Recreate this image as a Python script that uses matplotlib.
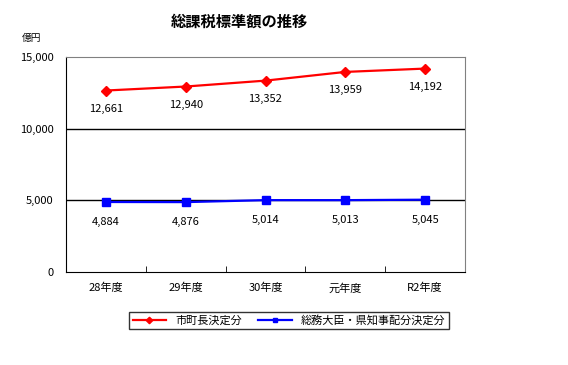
import matplotlib
matplotlib.use("Agg")
import matplotlib.pyplot as plt

plt.rcParams['font.family'] = ['Noto Sans CJK JP', 'DejaVu Sans']

years = ["28年度", "29年度", "30年度", "元年度", "R2年度"]
mayor = [12661, 12940, 13352, 13959, 14192]
minister = [4884, 4876, 5014, 5013, 5045]

fig = plt.figure(figsize=(5.68, 3.65), dpi=100)
W, H = 568, 365
ax = fig.add_axes([66 / W, 1 - 272 / H, (465 - 66) / W, (272 - 57) / H])

x = list(range(len(years)))
ax.plot(x, mayor, color="#ff0000", lw=1.6, marker="D", ms=5.5, label="市町長決定分")
ax.plot(x, minister, color="#0000ff", lw=1.6, marker="s", ms=6, label="総務大臣・県知事配分決定分")

for i, v in enumerate(mayor):
    ax.annotate(f"{v:,}", (i, v), xytext=(0, -13), textcoords="offset points",
                ha="center", va="center", fontsize=8)
for i, v in enumerate(minister):
    ax.annotate(f"{v:,}", (i, v), xytext=(0, -14.5), textcoords="offset points",
                ha="center", va="center", fontsize=8)

ax.set_xlim(-0.5, len(years) - 0.5)
ax.set_ylim(0, 15000)
ax.set_yticks([0, 5000, 10000, 15000])
ax.set_yticklabels(["0", "5,000", "10,000", "15,000"], fontsize=8)
ax.set_xticks(x)
ax.set_xticklabels(years, fontsize=8)
ax.tick_params(axis="x", length=0, pad=8)
ax.set_xticks([i + 0.5 for i in x[:-1]], minor=True)
ax.tick_params(axis="x", which="minor", direction="in", length=4, color="black")
ax.tick_params(axis="y", length=0, pad=9)

for yv in [5000, 10000]:
    ax.axhline(yv, color="black", lw=1, zorder=0)

ax.spines["top"].set_color("#808080")
ax.spines["right"].set_color("#808080")
ax.spines["left"].set_color("black")
ax.spines["bottom"].set_color("black")

fig.text(239 / W, 1 - 22 / H, "総課税標準額の推移", ha="center", va="center",
         fontsize=11, fontweight="bold")
fig.text(22 / W, 1 - 38 / H, "億円", ha="left", va="center", fontsize=7)

leg = fig.legend(loc="center", bbox_to_anchor=(289 / W, 1 - 320.5 / H), ncol=2,
                 fontsize=8, frameon=True, fancybox=False, edgecolor="black",
                 handlelength=3, markerscale=0.6, borderpad=0.3, columnspacing=1.5)
leg.get_frame().set_linewidth(1)

fig.savefig("out.png", dpi=100)
